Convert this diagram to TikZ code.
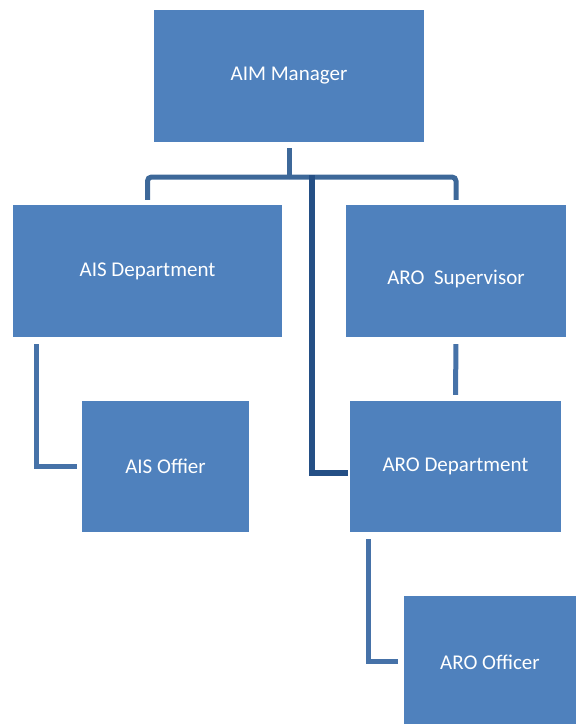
\documentclass[tikz,border=0pt]{standalone}
\usepackage{fontspec}
\setmainfont{Carlito}
\usepackage{tikz}
\usetikzlibrary{positioning}
\usepackage{xcolor}
\definecolor{boxblue}{HTML}{4F81BD}
\definecolor{linkblue}{HTML}{4672A8}
\definecolor{busblue}{HTML}{3D6899}
\definecolor{darklink}{HTML}{244F85}

\begin{document}
\begin{tikzpicture}[x=1pt, y=-1pt,
    unit/.style={fill=boxblue, text=white, inner sep=0pt, minimum height=132pt,
        font=\fontsize{21}{25}\selectfont},
    conn/.style={draw=linkblue, line width=5pt},
    bus/.style={draw=busblue, line width=5pt},
    spine/.style={draw=darklink, line width=6pt}]
    \useasboundingbox (0,0) rectangle (577,724);
    \node[unit, minimum width=270pt] (mgr) at (289,76) {AIM Manager};
    \node[unit, minimum width=269pt] (aisdep) at (147.5,271) {AIS Department};
    \node[unit, minimum width=220pt] (arosup) at (456,271) {\raisebox{-13pt}[0pt][0pt]{ARO\ \ Supervisor}};
    \node[unit, minimum width=167pt, minimum height=131pt] (aisoff) at (165.5,466.5) {AIS Offier};
    \node[unit, minimum width=211pt, minimum height=131pt] (arodep) at (455.5,466.5) {ARO Department};
    \node[unit, minimum width=172pt] (arooff) at (490,662) {ARO Officer};
    % bus under the manager
    \coordinate (bus) at (289,177);
    \coordinate (tap) at (312,175);
    \draw[bus, shorten <=6pt] (mgr.south) -- (bus);
    \draw[bus, rounded corners=4pt, shorten >=5pt] (bus) -| (aisdep.north);
    \draw[bus, rounded corners=4pt, shorten >=5pt] (bus) -| (arosup.north);
    \draw[spine, shorten >=2pt] (tap) |- ([yshift=-6pt]arodep.west);
    % lower links
    \draw[conn, shorten <=7pt, shorten >=5pt] ([xshift=24pt]aisdep.south west) |- (aisoff.west);
    \draw[conn, shorten <=7pt, shorten >=6pt] (arosup.south) -- (arodep.north);
    \draw[conn, shorten <=7pt, shorten >=6pt] ([xshift=19pt]arodep.south west) |- ([yshift=1pt]arooff.west);
\end{tikzpicture}
\end{document}
